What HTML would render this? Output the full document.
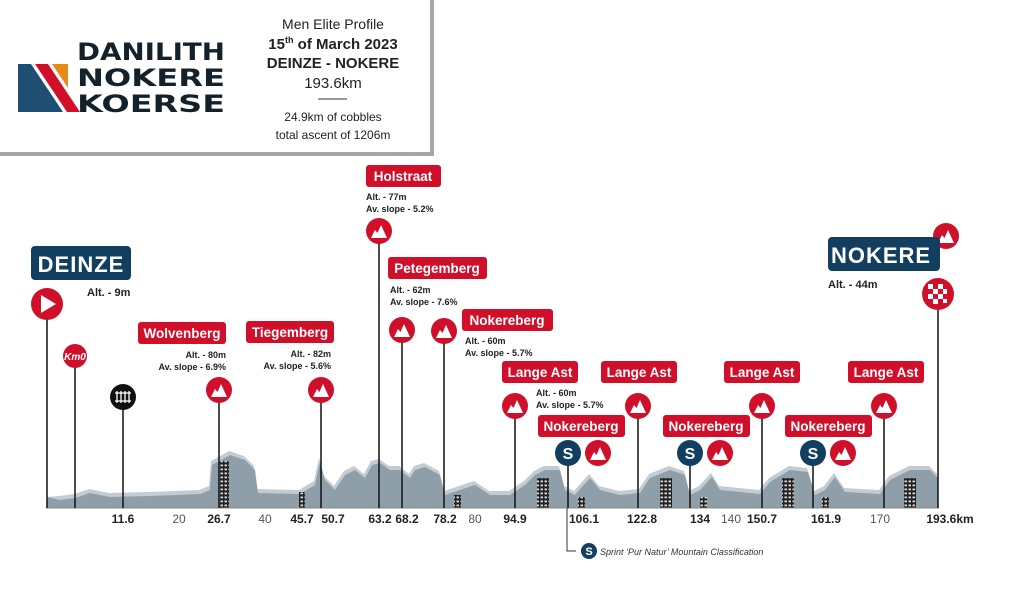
<!DOCTYPE html>
<html><head><meta charset="utf-8"><style>
html,body{margin:0;padding:0;background:#fff;}
svg{display:block;font-family:"Liberation Sans",sans-serif;}
.b{font-weight:bold;}
</style></head><body>
<svg width="1024" height="615" viewBox="0 0 1024 615" xmlns="http://www.w3.org/2000/svg">
<defs>
<pattern id="cob" width="4" height="4" patternUnits="userSpaceOnUse"><rect width="4" height="4" fill="#222"/><rect x="0.5" y="0.5" width="2.5" height="1.8" fill="#ddd"/></pattern>
<g id="mtn"><path d="M-8,6 L-4,-2 L-1.5,1 L2,-7 L8,6 Z" fill="#fff"/></g>
</defs>
<!-- header box -->
<rect x="0" y="0" width="434" height="156" fill="#a5a5a5"/>
<rect x="0" y="0" width="430" height="152" fill="#fff"/>
<!-- logo -->
<polygon points="18,64 31,64 63,112 18,112" fill="#1e4e72"/>
<polygon points="35,64 48,64 80,112 67,112" fill="#d0102a"/>
<polygon points="52,64 68,64 68,88" fill="#e88a18"/>
<g font-size="24" class="b" fill="#13212b" font-family="'DejaVu Sans',sans-serif">
<text x="77" y="60" textLength="148" lengthAdjust="spacingAndGlyphs">DANILITH</text>
<text x="77" y="86" textLength="148" lengthAdjust="spacingAndGlyphs">NOKERE</text>
<text x="77" y="112" textLength="148" lengthAdjust="spacingAndGlyphs">KOERSE</text>
</g>
<g text-anchor="middle" fill="#222">
<text x="333" y="29" font-size="14">Men Elite Profile</text>
<text x="333" y="49" font-size="15" class="b">15<tspan font-size="9" dy="-6">th</tspan><tspan dy="6"> of March 2023</tspan></text>
<text x="333" y="68" font-size="15" class="b">DEINZE - NOKERE</text>
<text x="333" y="88" font-size="15">193.6km</text>
<line x1="318" y1="99" x2="347" y2="99" stroke="#333"/>
<text x="333" y="121" font-size="12">24.9km of cobbles</text>
<text x="333" y="139" font-size="12">total ascent of 1206m</text>
</g>
<!-- profile -->
<g transform="translate(-7,-9)">
<polygon fill="#c3ccd2" points="54,517 54,506 66,505 81,503 96,498 116,502 156,501 206,499 216,495 218,470 236,460 251,465 261,475 264,498 306,499 321,490 326,467 331,485 341,495 351,480 361,475 371,483 378,470 386,468 396,475 406,475 416,483 421,475 431,472 446,480 451,500 466,495 481,490 496,500 516,500 531,490 541,480 551,475 566,475 571,495 581,500 596,483 606,495 626,500 646,498 656,483 676,475 691,480 696,500 706,495 718,482 726,495 766,499 776,487 796,475 814,477 821,500 831,495 841,482 851,497 886,499 896,485 916,475 936,475 944,483 944,517"/>
</g>
<polygon fill="#8e9faa" points="47,508 47,497 60,500 75,498 90,493 110,497 150,496 200,494 210,490 212,465 230,455 245,460 255,470 258,493 300,494 315,485 320,462 325,480 335,490 345,475 355,470 365,478 372,465 380,463 390,470 400,470 410,478 415,470 425,467 440,475 445,495 460,490 475,485 490,495 510,495 525,485 535,475 545,470 560,470 565,490 575,495 590,478 600,490 620,495 640,493 650,478 670,470 685,475 690,495 700,490 712,477 720,490 760,494 770,482 790,470 808,472 815,495 825,490 835,477 845,492 880,494 890,480 910,470 930,470 938,478 938,508"/>
<g fill="url(#cob)">
<rect x="220" y="461" width="9" height="47"/><rect x="299" y="492" width="6" height="16"/><rect x="454" y="495" width="7" height="13"/>
<rect x="537" y="478" width="12" height="30"/><rect x="578" y="497" width="7" height="11"/>
<rect x="660" y="478" width="12" height="30"/><rect x="700" y="497" width="7" height="11"/>
<rect x="782" y="478" width="12" height="30"/><rect x="822" y="497" width="7" height="11"/>
<rect x="904" y="478" width="12" height="30"/>
</g>
<line x1="46" y1="508" x2="939" y2="508" stroke="#888" stroke-width="1"/>
<!-- vertical lines -->
<g stroke="#111" stroke-width="1.5">
<line x1="47" y1="304" x2="47" y2="508"/><line x1="75" y1="356" x2="75" y2="508"/><line x1="123" y1="397" x2="123" y2="508"/>
<line x1="219" y1="390" x2="219" y2="508"/><line x1="321" y1="390" x2="321" y2="508"/><line x1="379" y1="231" x2="379" y2="508"/>
<line x1="402" y1="330" x2="402" y2="508"/><line x1="444" y1="331" x2="444" y2="508"/><line x1="515" y1="406" x2="515" y2="508"/>
<line x1="568" y1="453" x2="568" y2="508"/><line x1="638" y1="406" x2="638" y2="508"/><line x1="690" y1="453" x2="690" y2="508"/>
<line x1="762" y1="406" x2="762" y2="508"/><line x1="813" y1="453" x2="813" y2="508"/><line x1="884" y1="406" x2="884" y2="508"/>
<line x1="938" y1="294" x2="938" y2="508"/>
</g>
<!-- axis labels -->
<g font-size="12" text-anchor="middle" fill="#222">
<text x="123" y="523" class="b">11.6</text><text x="179" y="523" fill="#555">20</text><text x="219" y="523" class="b">26.7</text>
<text x="265" y="523" fill="#555">40</text><text x="302" y="523" class="b">45.7</text><text x="333" y="523" class="b">50.7</text>
<text x="380" y="523" class="b">63.2</text><text x="407" y="523" class="b">68.2</text><text x="445" y="523" class="b">78.2</text>
<text x="475" y="523" fill="#555">80</text><text x="515" y="523" class="b">94.9</text><text x="584" y="523" class="b">106.1</text>
<text x="642" y="523" class="b">122.8</text><text x="700" y="523" class="b">134</text><text x="731" y="523" fill="#555">140</text>
<text x="762" y="523" class="b">150.7</text><text x="826" y="523" class="b">161.9</text><text x="880" y="523" fill="#555">170</text>
<text x="950" y="523" class="b">193.6km</text>
</g>
<!-- sprint legend -->
<polyline points="567,508 567,551 576,551" fill="none" stroke="#333" stroke-width="1"/>
<circle cx="589" cy="551" r="8" fill="#123f60"/><text x="589" y="555" font-size="11" class="b" fill="#fff" text-anchor="middle">S</text>
<text x="600" y="555" font-size="9" font-style="italic" fill="#333">Sprint ‘Pur Natur’ Mountain Classification</text>
<!-- markers -->
<g fill="#d0102a">
<circle cx="47" cy="304" r="16"/><circle cx="75" cy="356" r="12"/>
<circle cx="219" cy="390" r="13"/><circle cx="321" cy="390" r="13"/><circle cx="379" cy="231" r="13"/>
<circle cx="402" cy="330" r="13"/><circle cx="444" cy="331" r="13"/><circle cx="515" cy="406" r="13"/>
<circle cx="598" cy="453" r="13"/><circle cx="638" cy="406" r="13"/><circle cx="720" cy="453" r="13"/>
<circle cx="762" cy="406" r="13"/><circle cx="843" cy="453" r="13"/><circle cx="884" cy="406" r="13"/>
<circle cx="946" cy="236" r="13"/><circle cx="938" cy="294" r="16"/>
</g>
<polygon points="41,295 41,313 56,304" fill="#fff"/>
<text x="75" y="360" font-size="10" class="b" font-style="italic" fill="#fff" text-anchor="middle">Km0</text>
<circle cx="123" cy="397" r="13" fill="#111"/>
<g stroke="#fff" stroke-width="1.3"><line x1="115" y1="393" x2="131" y2="393"/><line x1="115" y1="401" x2="131" y2="401"/>
<line x1="117" y1="391" x2="117" y2="403"/><line x1="121" y1="391" x2="121" y2="403"/><line x1="125" y1="391" x2="125" y2="403"/><line x1="129" y1="391" x2="129" y2="403"/></g>
<use href="#mtn" x="219" y="391"/><use href="#mtn" x="321" y="391"/><use href="#mtn" x="379" y="232"/>
<use href="#mtn" x="402" y="331"/><use href="#mtn" x="444" y="332"/><use href="#mtn" x="515" y="407"/>
<use href="#mtn" x="598" y="454"/><use href="#mtn" x="638" y="407"/><use href="#mtn" x="720" y="454"/>
<use href="#mtn" x="762" y="407"/><use href="#mtn" x="843" y="454"/><use href="#mtn" x="884" y="407"/><use href="#mtn" x="946" y="237"/>
<g fill="#fff">
<rect x="928" y="284" width="5" height="5"/><rect x="938" y="284" width="5" height="5"/>
<rect x="933" y="289" width="5" height="5"/><rect x="943" y="289" width="4" height="5"/><rect x="928" y="294" width="5" height="5"/><rect x="938" y="294" width="5" height="5"/>
<rect x="933" y="299" width="5" height="5"/><rect x="943" y="299" width="4" height="4"/>
</g>
<!-- S circles -->
<g fill="#123f60"><circle cx="568" cy="453" r="13"/><circle cx="690" cy="453" r="13"/><circle cx="813" cy="453" r="13"/></g>
<g font-size="16" class="b" fill="#fff" text-anchor="middle"><text x="568" y="459">S</text><text x="690" y="459">S</text><text x="813" y="459">S</text></g>
<!-- town labels -->
<rect x="31" y="246" width="100" height="34" rx="4" fill="#123f60"/>
<text x="81" y="272" font-size="22" class="b" fill="#fff" text-anchor="middle" letter-spacing="1">DEINZE</text>
<text x="87" y="296" font-size="11" class="b" fill="#222">Alt. - 9m</text>
<rect x="828" y="237" width="112" height="34" rx="4" fill="#123f60"/>
<text x="881" y="263" font-size="22" class="b" fill="#fff" text-anchor="middle" letter-spacing="1">NOKERE</text>
<text x="828" y="288" font-size="11" class="b" fill="#222">Alt. - 44m</text>
<!-- climb labels -->
<g fill="#d0102a">
<rect x="138" y="322" width="88" height="22" rx="3"/><rect x="246" y="321" width="88" height="22" rx="3"/>
<rect x="366" y="165" width="75" height="22" rx="3"/><rect x="388" y="257" width="99" height="22" rx="3"/>
<rect x="462" y="309" width="91" height="22" rx="3"/><rect x="502" y="361" width="76" height="22" rx="3"/>
<rect x="538" y="415" width="87" height="22" rx="3"/><rect x="601" y="361" width="76" height="22" rx="3"/>
<rect x="663" y="415" width="87" height="22" rx="3"/><rect x="724" y="361" width="76" height="22" rx="3"/>
<rect x="785" y="415" width="87" height="22" rx="3"/><rect x="848" y="361" width="76" height="22" rx="3"/>
</g>
<g font-size="13.5" class="b" fill="#fff" text-anchor="middle">
<text x="182" y="338">Wolvenberg</text><text x="290" y="337">Tiegemberg</text><text x="403" y="181">Holstraat</text>
<text x="437" y="273">Petegemberg</text><text x="507" y="325">Nokereberg</text><text x="540" y="377">Lange Ast</text>
<text x="581" y="431">Nokereberg</text><text x="639" y="377">Lange Ast</text><text x="706" y="431">Nokereberg</text>
<text x="762" y="377">Lange Ast</text><text x="828" y="431">Nokereberg</text><text x="886" y="377">Lange Ast</text>
</g>
<g font-size="9" class="b" fill="#222">
<text x="226" y="358" text-anchor="end">Alt. - 80m</text><text x="226" y="370" text-anchor="end">Av. slope - 6.9%</text>
<text x="331" y="357" text-anchor="end">Alt. - 82m</text><text x="331" y="369" text-anchor="end">Av. slope - 5.6%</text>
<text x="366" y="200">Alt. - 77m</text><text x="366" y="212">Av. slope - 5.2%</text>
<text x="390" y="293">Alt. - 62m</text><text x="390" y="305">Av. slope - 7.6%</text>
<text x="465" y="344">Alt. - 60m</text><text x="465" y="356">Av. slope - 5.7%</text>
<text x="536" y="396">Alt. - 60m</text><text x="536" y="408">Av. slope - 5.7%</text>
</g>
</svg>
</body></html>
